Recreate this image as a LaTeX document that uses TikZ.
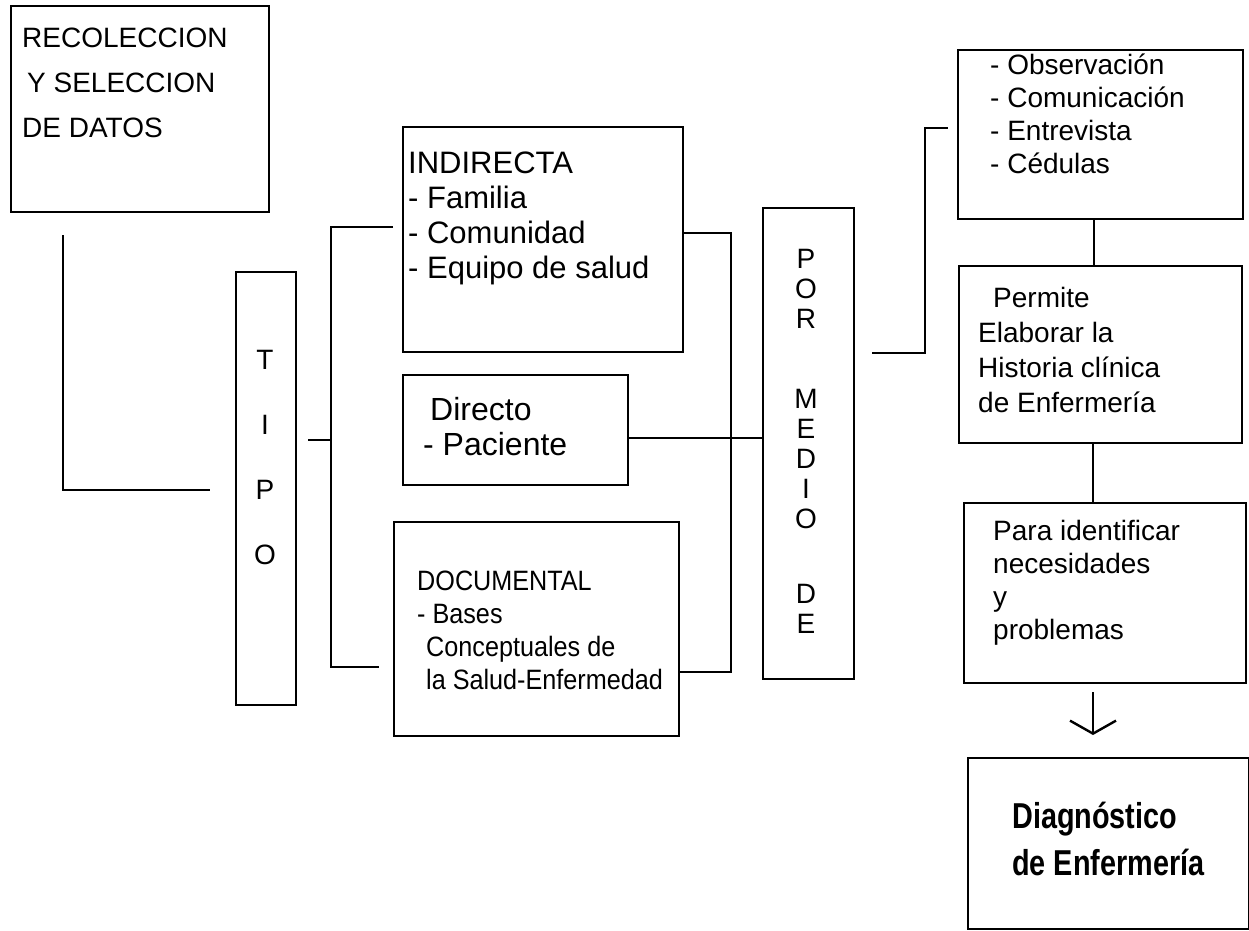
\documentclass[tikz,border=0pt]{standalone}
\usepackage{fontspec}
\setmainfont{Liberation Sans}
\newfontfamily\narrowfont[FakeStretch=0.9]{Liberation Sans}
\newfontfamily\diagfont[FakeStretch=0.8]{Liberation Sans}
\usetikzlibrary{arrows.meta}
\newcommand\mystrutA{\rule{0pt}{0.8em}}
\tikzset{
  box/.style={draw, line width=2.4pt, inner sep=0pt, anchor=north west},
  txt/.style={inner sep=0pt, anchor=north west, align=left},
  vtxt/.style={inner sep=0pt, anchor=north, align=center},
  conn/.style={line width=2.4pt},
}
\begin{document}
\begin{tikzpicture}[x=1pt,y=-1pt]
\fill[white] (0,0) rectangle (1249,930);
\useasboundingbox (0,0) rectangle (1249,930);

% boxes
\node[box, minimum width=258pt, minimum height=206pt] (rec)   at (10,5) {};
\node[box, minimum width=60pt,  minimum height=433pt] (tipo)  at (235,271) {};
\node[box, minimum width=280pt, minimum height=225pt] (indir) at (402,126) {};
\node[box, minimum width=225pt, minimum height=110pt] (dir)   at (402,374) {};
\node[box, minimum width=285pt, minimum height=214pt] (doc)   at (393,521) {};
\node[box, minimum width=91pt,  minimum height=471pt] (pm)    at (762,207) {};
\node[box, minimum width=285pt, minimum height=169pt] (obs)   at (957,49) {};
\node[box, minimum width=283pt, minimum height=177pt] (perm)  at (958,265) {};
\node[box, minimum width=282pt, minimum height=180pt] (para)  at (963,502) {};
\node[box, minimum width=281pt, minimum height=171pt] (diag)  at (967,757) {};

% texts
\node[txt, font=\fontsize{28}{45}\selectfont] (rect) at (22,24.6)
  {\mystrutA RECOLECCION\\\hspace*{5pt}Y SELECCION\\DE DATOS};
\node[vtxt, font=\fontsize{28}{65}\selectfont] (tipot) at (265,346.6)
  {\mystrutA T\\I\\P\\O};
\node[txt, font=\fontsize{31}{35}\selectfont] (indirt) at (408,148.2)
  {\mystrutA INDIRECTA\\- Familia\\- Comunidad\\- Equipo de salud};
\node[txt, font=\fontsize{32}{35}\selectfont] (dirt) at (423,394.4)
  {\mystrutA\hspace*{7pt}Directo\\- Paciente};
\node[txt, font=\narrowfont\fontsize{28}{33}\selectfont] (doct) at (417,567.6)
  {\mystrutA DOCUMENTAL\\- Bases\\\hspace*{9pt}Conceptuales de\\\hspace*{9pt}la Salud-Enfermedad};
\node[vtxt, font=\fontsize{28}{30}\selectfont] (pmt) at (806,245.6)
  {\mystrutA P\\O\\R\\[50pt]M\\E\\D\\I\\O\\[45pt]D\\E};
\node[txt, font=\fontsize{28}{33}\selectfont] (obst) at (990,51.6)
  {\mystrutA - Observación\\- Comunicación\\- Entrevista\\- Cédulas};
\node[txt, font=\fontsize{28}{35}\selectfont] (permt) at (978,284.6)
  {\mystrutA\hspace*{15pt}Permite\\Elaborar la\\Historia clínica\\de Enfermería};
\node[txt, font=\fontsize{28}{33}\selectfont] (parat) at (993,517.6)
  {\mystrutA Para identificar\\necesidades\\y\\problemas};
\node[txt, font=\diagfont\bfseries\fontsize{36}{47}\selectfont] (diagt) at (1012,799.2)
  {\mystrutA Diagnóstico\\de Enfermería};

% connectors
\coordinate (l1) at (63,235);
\coordinate (l2) at (210,490);
\draw[conn] (l1) |- (l2);

\coordinate (s1) at (308,440);
\coordinate (s2) at (331,440);
\draw[conn] (s1) -- (s2);

\coordinate (bt) at (393,227);
\coordinate (bj) at (331,667);
\coordinate (bb) at (379,667);
\draw[conn] (bt) -| (bj) -- (bb);

\coordinate (rb1) at (731,233);
\coordinate (rb2) at (731,672);
\draw[conn] (indir.east |- rb1) -- (rb1) -- (rb2) -- (doc.east |- rb2);

\draw[conn] ([yshift=-8pt]dir.east) -- ([yshift=-8pt]dir.east -| pm.west);

\coordinate (q1) at (872,353);
\coordinate (q2) at (925,353);
\coordinate (q3) at (925,128);
\coordinate (q4) at (948,128);
\draw[conn] (q1) -- (q2) -- (q3) -- (q4);

\draw[conn] ([xshift=-7pt]obs.south) -- ([xshift=-7pt]obs.south |- perm.north);
\draw[conn] ([xshift=-8pt]perm.south) -- ([xshift=-8pt]perm.south |- para.north);

\coordinate (a1) at (1093,692);
\coordinate (a2) at (1093,735);
\draw[conn, -{Straight Barb[length=13pt,width=46pt]}] (a1) -- (a2);
\end{tikzpicture}
\end{document}
